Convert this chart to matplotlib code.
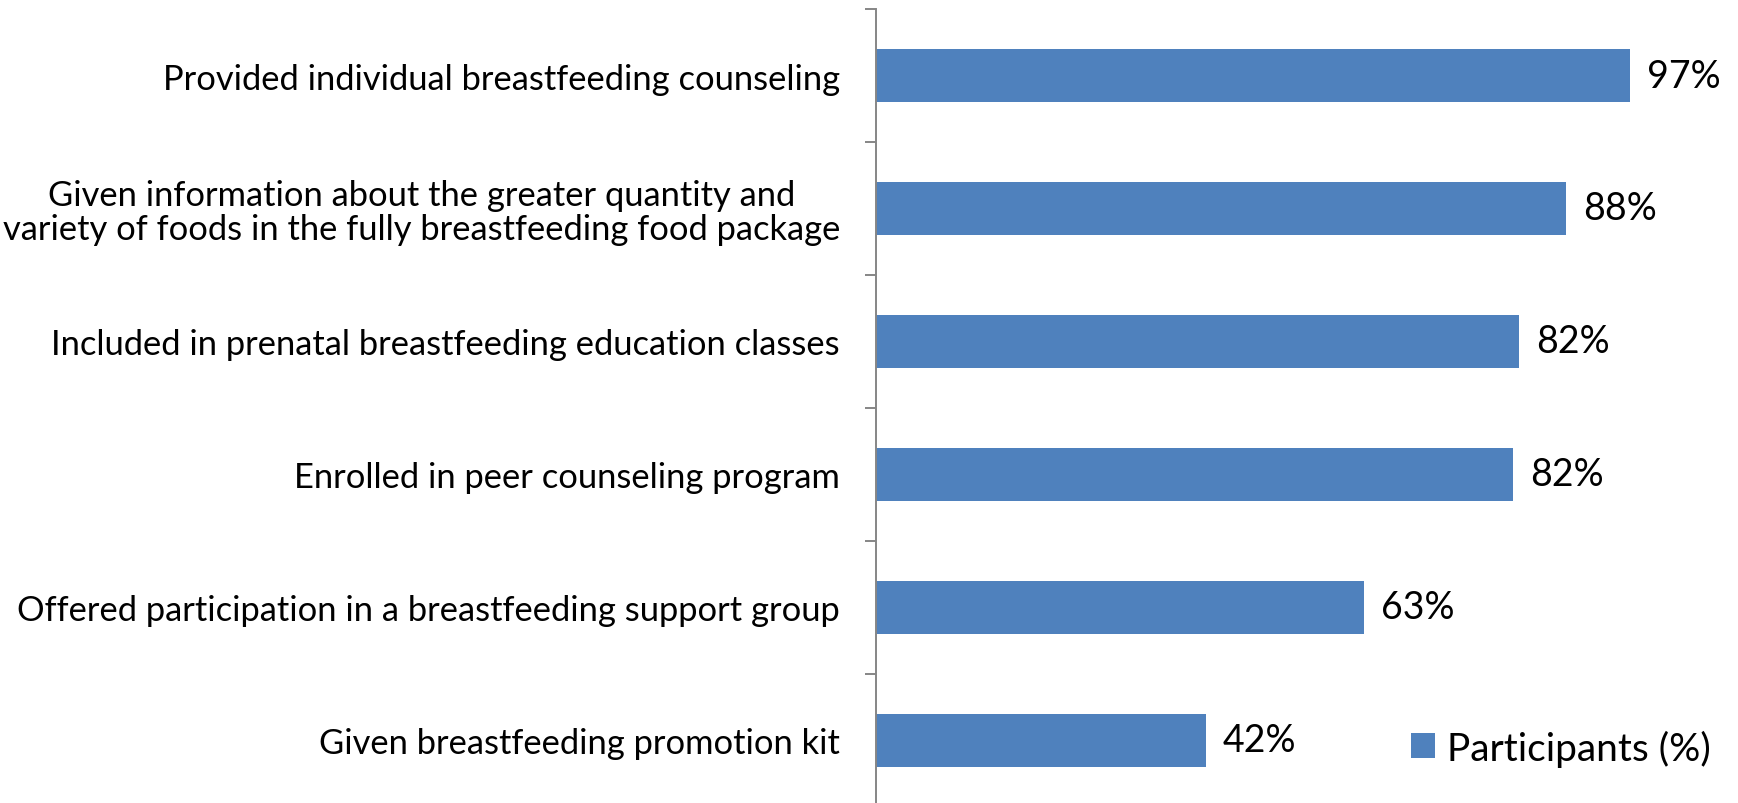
import numpy as np
import matplotlib
matplotlib.use('Agg')
import matplotlib.pyplot as plt

plt.rcParams['font.family'] = ['Lato', 'DejaVu Sans']

# services received, top to bottom
categories = ['Provided individual breastfeeding counseling',
  'Given information about the greater quantity and\nvariety of foods in the fully breastfeeding food package',
  'Included in prenatal breastfeeding education classes',
  'Enrolled in peer counseling program',
  'Offered participation in a breastfeeding support group',
  'Given breastfeeding promotion kit']
values = [96.7, 88.5, 82.4, 81.7, 62.6, 42.3]
labels = ['97%', '88%', '82%', '82%', '63%', '42%']
seriesName = 'Participants (%)'

W, H = 1738, 804
fig = plt.figure(figsize=(W/100, H/100), dpi=100)
ax = fig.add_axes([876/W, -4/H, 862/W, 798/H])

y = np.arange(len(categories))
bars = ax.barh(y, values, height=0.4, color='#4F81BD', label=seriesName)
ax.set_ylim(len(categories)-0.5, -0.5)
ax.set_xlim(0, 862/7.8)

for b, lab in zip(bars, labels):
  ax.text(b.get_width() + 17/7.8, b.get_y() + b.get_height()/2, lab,
    va='center', ha='left', fontsize=27)

ax.set_yticks(y)
ax.set_yticklabels(categories, fontsize=24.8, ha='right', linespacing=1.05)
for t in ax.get_yticklabels():
  t.set_multialignment('center')
ax.tick_params(axis='y', which='major', length=0, pad=26)
ax.set_yticks(np.arange(-0.5, len(categories)), minor=True)
ax.tick_params(axis='y', which='minor', length=8, width=1.4, color='#868686')
ax.set_xticks([])
for s in ['top', 'right', 'bottom']:
  ax.spines[s].set_visible(False)
ax.spines['left'].set_color('#868686')
ax.spines['left'].set_linewidth(1.4)

fig.legend(loc='center left', bbox_to_anchor=(1411/W, 1 - 749/H), fontsize=28,
  frameon=False, handlelength=0.62, handleheight=0.62, handletextpad=0.3,
  borderpad=0, borderaxespad=0)

fig.savefig('out.png', dpi=100)
